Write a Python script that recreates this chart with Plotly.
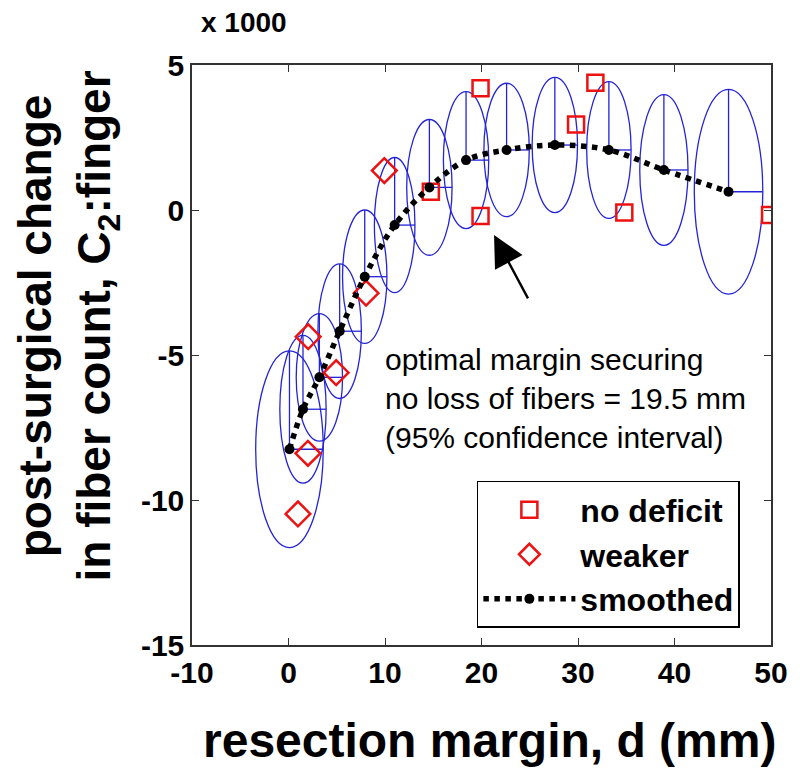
import plotly.graph_objects as go

# ---- data (values in units of 1000 fibers) ----
no_deficit_x = [14.75, 19.9, 19.9, 29.8, 31.8, 34.8, 49.9]
no_deficit_y = [0.63, 4.2, -0.21, 2.95, 4.39, -0.09, -0.17]

weaker_x = [0.98, 2.01, 2.04, 4.94, 8.04, 9.93]
weaker_y = [-10.48, -8.39, -4.37, -5.61, -2.87, 1.36]

smooth_x = [0.1, 1.5, 3.2, 5.3, 7.9, 11.0, 14.6, 18.4, 22.6, 27.6, 33.2, 38.9, 45.6]
smooth_y = [-8.25, -6.87, -5.77, -4.18, -2.3, -0.52, 0.78, 1.72, 2.07, 2.24, 2.07, 1.38, 0.63]

# 95% confidence ellipse semi-axes
ell_rx = [3.5, 2.4, 2.4, 2.25, 2.3, 2.1, 2.35, 2.35, 2.35, 2.35, 2.3, 2.5, 3.55]
ell_ry = [3.39, 2.55, 2.2, 2.32, 2.3, 2.33, 2.34, 2.36, 2.3, 2.33, 2.36, 2.6, 3.53]

x_ticks = [-10, 0, 10, 20, 30, 40, 50]
y_ticks = [-15, -10, -5, 0, 5]

FONT = "Liberation Sans, Arial, sans-serif"
BLUE = "#2424d6"
RED = "#ee1111"

fig = go.Figure()

shapes = []
for cx, cy, rx, ry in zip(smooth_x, smooth_y, ell_rx, ell_ry):
    shapes.append(dict(type="circle", xref="x", yref="y", x0=cx - rx, x1=cx + rx,
                       y0=cy - ry, y1=cy + ry, line=dict(color=BLUE, width=1.3), layer="below"))
    shapes.append(dict(type="line", xref="x", yref="y", x0=cx, x1=cx, y0=cy, y1=cy + ry,
                       line=dict(color=BLUE, width=1.3), layer="below"))
    shapes.append(dict(type="line", xref="x", yref="y", x0=cx, x1=cx + rx, y0=cy, y1=cy,
                       line=dict(color=BLUE, width=1.3), layer="below"))

fig.add_trace(go.Scatter(x=no_deficit_x, y=no_deficit_y, mode="markers", name="no deficit",
                         marker=dict(symbol="square-open", size=16, color=RED, line=dict(width=2.5, color=RED))))
fig.add_trace(go.Scatter(x=weaker_x, y=weaker_y, mode="markers", name="weaker",
                         marker=dict(symbol="diamond-open", size=19, color=RED, line=dict(width=2.5, color=RED))))
fig.add_trace(go.Scatter(x=smooth_x, y=smooth_y, mode="lines+markers", name="smoothed",
                         line=dict(color="black", width=5.5, dash="dot", shape="spline"),
                         marker=dict(symbol="circle", size=10, color="black")))

axis_common = dict(showline=True, linecolor="#333333", linewidth=1.5, mirror="ticks",
                   ticks="inside", ticklen=7, tickcolor="#333333", showgrid=False, zeroline=False,
                   tickfont=dict(family=FONT, size=30, color="black", weight="bold"))

fig.update_xaxes(range=[-10, 50], tickvals=x_ticks, ticktext=[str(v) for v in x_ticks], **axis_common)
fig.update_yaxes(range=[-15, 5], tickvals=y_ticks, ticktext=[str(v) for v in y_ticks], **axis_common)

annotations = [
    dict(text="x 1000", xref="paper", yref="paper", x=0.0895, y=1.074, xanchor="center", yanchor="middle",
         showarrow=False, font=dict(family=FONT, size=28, color="black", weight="bold")),
    dict(text="post-surgical change<br>in fiber count, C<sub>2</sub>:finger", xref="paper", yref="paper",
         x=-0.215, y=0.55, xanchor="center", yanchor="middle", textangle=-90, showarrow=False,
         font=dict(family=FONT, size=46, color="black", weight="bold")),
    dict(text="resection margin, d (mm)", xref="paper", yref="paper", x=0.513, y=-0.164,
         xanchor="center", yanchor="middle",
         showarrow=False, font=dict(family=FONT, size=48, color="black", weight="bold")),
    dict(text="optimal margin securing<br>no loss of fibers = 19.5 mm<br>(95% confidence interval)",
         xref="x", yref="y", x=9.8, y=-6.5, xanchor="left", yanchor="middle", align="left",
         showarrow=False, font=dict(family=FONT, size=30, color="black")),
    dict(text="", xref="x", yref="y", x=21.3, y=-0.86, axref="x", ayref="y", ax=24.9, ay=-3.1,
         showarrow=True, arrowhead=2, arrowsize=2.6, arrowwidth=2.4, arrowcolor="black"),
]

fig.update_layout(
    width=792, height=776,
    margin=dict(l=184, r=27, t=57, b=139),
    paper_bgcolor="white", plot_bgcolor="white",
    shapes=shapes, annotations=annotations,
    legend=dict(x=0.492, y=0.283, xanchor="left", yanchor="top",
                bordercolor="black", borderwidth=1.5, bgcolor="white",
                itemwidth=92,
                font=dict(family=FONT, size=32, color="black", weight="bold")),
    showlegend=True,
)

fig.write_html("out.html")
